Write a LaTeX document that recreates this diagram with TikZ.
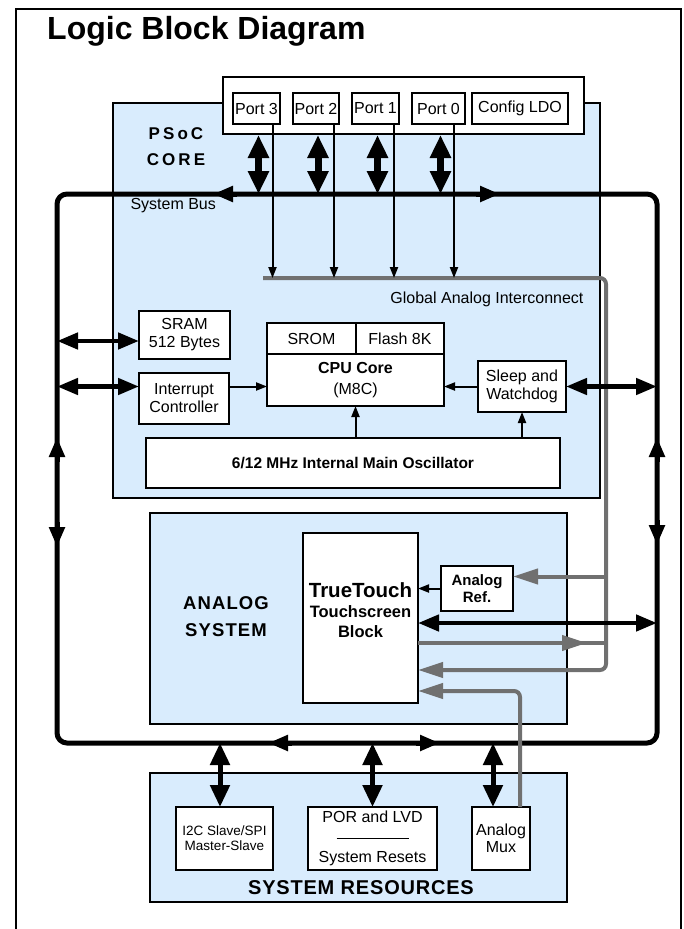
\documentclass[tikz,border=0pt]{standalone}
\usepackage{fontspec}
\setmainfont{Liberation Sans}
\usepackage{tikz}
\usetikzlibrary{arrows.meta,calc}
\definecolor{blockblue}{RGB}{217,236,253}
\definecolor{anagray}{RGB}{112,112,112}
\tikzstyle{region}=[draw=black,fill=blockblue,line width=1.6pt,inner sep=0pt,outer sep=0pt]
\tikzstyle{blk}=[draw=black,fill=white,line width=1.1pt,inner sep=0pt,outer sep=0pt,align=center,font=\fontsize{16}{18}\selectfont]
\tikzstyle{smtxt}=[font=\fontsize{16}{18}\selectfont]
\tikzstyle{sysbus}=[line width=5pt,rounded corners=10pt]
\tikzstyle{busarr}=[line width=5pt,-{Triangle[length=20pt,width=15pt]}]
\tikzstyle{portarr}=[line width=7pt,{Triangle[length=23pt,width=20pt]}-{Triangle[length=23pt,width=20pt]}]
\tikzstyle{dblarr}=[line width=4.5pt,{Triangle[length=21pt,width=16pt]}-{Triangle[length=21pt,width=16pt]}]
\tikzstyle{resarr}=[line width=5pt,{Triangle[length=22pt,width=19pt]}-{Triangle[length=22pt,width=19pt]}]
\tikzstyle{sarr}=[line width=2pt,-{Triangle[length=11pt,width=8pt]}]
\tikzstyle{gline}=[draw=anagray,line width=4pt,rounded corners=6pt]
\tikzstyle{garr}=[draw=anagray,line width=4pt,-{Triangle[length=25pt,width=15pt]}]

\begin{document}
\begin{tikzpicture}[x=1pt,y=-1pt]
\useasboundingbox (0,0) rectangle (683,929);
\draw[line width=2pt] (16,929) -- (16,9) -- (681,9) -- (681,929);
\node[anchor=base west,inner sep=0pt,font=\bfseries\fontsize{32}{36}\selectfont] (title) at (47,39) {Logic Block Diagram};

% the three blue areas
\node[region,minimum width=487pt,minimum height=395pt] (core) at (356.5,300.5) {};
\node[region,minimum width=417pt,minimum height=211pt] (asys) at (358.5,618.5) {};
\node[region,minimum width=417pt,minimum height=129pt] (sres) at (358.5,837.5) {};

% ports
\node[draw,fill=white,line width=2pt,minimum width=361pt,minimum height=57pt,inner sep=0pt] (pf) at (403.5,105.5) {};
\node[blk,minimum width=47pt,minimum height=31pt] (p3) at (256.5,108.5) {Port 3};
\node[blk,minimum width=46pt,minimum height=31pt] (p2) at (316,108.5) {Port 2};
\node[blk,minimum width=47pt,minimum height=31pt] (p1) at (375.5,108.5) {Port 1};
\node[blk,minimum width=53pt,minimum height=31pt] (p0) at (438.5,108.5) {Port 0};
\node[blk,minimum width=96pt,minimum height=31pt] (ldo) at (520,108.5) {Config LDO};

\node[align=center,font=\bfseries\fontsize{17}{26}\selectfont\addfontfeatures{LetterSpace=18}] (psoc) at (176,147) {PSoC\\CORE};
\node[smtxt,anchor=west] (sbus) at (127,206) {System Bus};
\node[smtxt,anchor=east] (gail) at (587,299) {Global Analog Interconnect};

% core blocks
\node[blk,minimum width=91pt,minimum height=48pt] (sram) at (184.5,335) {SRAM\\512 Bytes};
\node[blk,minimum width=90pt,minimum height=51pt] (intc) at (184,398.5) {Interrupt\\Controller};
\node[blk,minimum width=89pt,minimum height=31pt] (srom) at (311.5,338.5) {SROM};
\node[blk,minimum width=88pt,minimum height=31pt] (flash) at (400,338.5) {Flash 8K};
\node[blk,minimum width=177pt,minimum height=52pt] (cpu) at (355.5,380) {\textbf{CPU Core}\\[3pt](M8C)};
\node[blk,minimum width=88pt,minimum height=51pt] (sleep) at (522,386.5) {Sleep and\\Watchdog};
\node[blk,minimum width=414pt,minimum height=50pt,font=\bfseries\fontsize{15.5}{18}\selectfont] (osc) at (353,463) {6/12 MHz Internal Main Oscillator};

% analog system
\node[align=center,font=\bfseries\fontsize{18.5}{27}\selectfont\addfontfeatures{LetterSpace=6}] (asl) at (226,617) {ANALOG\\SYSTEM};
\node[blk,minimum width=115pt,minimum height=170pt] (tt) at (360.5,618) {};
\node[align=center,font=\bfseries\fontsize{16.5}{19.5}\selectfont] (ttl) at ([yshift=8pt]tt.center) {{\fontsize{20.5}{22}\selectfont TrueTouch}\\[1pt]Touchscreen\\Block};
\node[blk,minimum width=72pt,minimum height=45pt,font=\bfseries\fontsize{15}{17}\selectfont] (aref) at (477,588.5) {Analog\\Ref.};

% system resources
\node[font=\bfseries\fontsize{20}{24}\selectfont\addfontfeatures{LetterSpace=4}] (srl) at (361,888) {SYSTEM RESOURCES};
\node[blk,minimum width=97pt,minimum height=63pt,font=\fontsize{13.5}{15}\selectfont] (i2c) at (224.5,838.5) {I2C Slave/SPI\\Master-Slave};
\node[blk,minimum width=129pt,minimum height=63pt,font=\fontsize{16}{20}\selectfont] (por) at (372.5,838.5) {POR and LVD\\\rule[4pt]{72pt}{1pt}\\System Resets};
\node[blk,minimum width=58pt,minimum height=63pt,font=\fontsize{16}{17}\selectfont] (mux) at (501,838.5) {Analog\\Mux};

% system bus
\coordinate (btl) at (57,194);
\coordinate (bbr) at (657,743);
\draw[sysbus] (btl) rectangle (bbr);
\draw[busarr] ($(btl)+(180,0)$) -- ++(-24,0);
\draw[busarr] ($(btl)+(419,0)$) -- ++(24,0);
\draw[busarr] ($(btl)+(0,268)$) -- ++(0,-25);
\draw[busarr] ($(btl)+(0,328)$) -- ++(0,25);
\draw[busarr] ($(btl -| bbr)+(0,268)$) -- ++(0,-25);
\draw[busarr] ($(btl -| bbr)+(0,326)$) -- ++(0,25);
\draw[busarr] ($(bbr -| btl)+(235,0)$) -- ++(-24,0);
\draw[busarr] ($(bbr -| btl)+(359,0)$) -- ++(24,0);

% global analog interconnect
\coordinate (gai) at (263,278);
\coordinate (gv) at (606,278);
\coordinate (arin) at ([yshift=12pt]aref.east);
\coordinate (ttout) at ([yshift=-25pt]tt.east);
\coordinate (ttin) at ([yshift=-52pt]tt.east);
\coordinate (ttmux) at ([yshift=-73pt]tt.east);
\coordinate (muxg) at ([xshift=19pt]mux.north);
\draw[gline,-{Triangle[length=25pt,width=15pt]}] (gai) -- (gv) -- (gv |- ttin) -- (ttin);
\draw[garr] (arin -| gv) -- (arin);
\draw[gline] (ttout) -- (ttout -| gv);
\draw[garr] (ttout) -- ($(ttout -| gv)+(-19,0)$);
\draw[gline,-{Triangle[length=25pt,width=15pt]}] (muxg) -- (muxg |- ttmux) -- (ttmux);

% port connections
\foreach \p/\s in {p3/16,p2/18,p1/18.5,p0/15.5}{
  \coordinate (\p-a) at ([xshift=2pt]\p.south);
  \coordinate (\p-t) at ([xshift=\s pt]\p.south);
  \draw[portarr] (\p-a |- pf.south) -- (\p-a |- btl);
  \draw[sarr] (\p-t) -- (\p-t |- gai);
}

% core connections
\coordinate (sr) at ([yshift=-6pt]sram.west);
\draw[dblarr] (sr -| btl) -- (sr);
\draw[dblarr] (sleep.west -| btl) -- (sleep.west -| intc.west);
\draw[sarr] (sleep.west -| intc.east) -- (sleep.west -| cpu.west);
\draw[sarr] (sleep.west) -- (sleep.west -| cpu.east);
\draw[dblarr] (sleep.east) -- (sleep.east -| bbr);
\draw[sarr] (osc.north -| cpu.south) -- (cpu.south);
\draw[sarr] (osc.north -| sleep.south) -- (sleep.south);

% analog connections
\coordinate (ttbus) at ([yshift=-5pt]tt.east);
\draw[sarr] (aref.west) -- (aref.west -| tt.east);
\draw[dblarr] (ttbus) -- (ttbus -| bbr);

% system resources connections
\coordinate (i2a) at ([xshift=-4.5pt]i2c.north);
\coordinate (muxa) at ([xshift=-8pt]mux.north);
\draw[resarr] (i2a |- bbr) -- (i2a);
\draw[resarr] (por.north |- bbr) -- (por.north);
\draw[resarr] (muxa |- bbr) -- (muxa);
\end{tikzpicture}
\end{document}
